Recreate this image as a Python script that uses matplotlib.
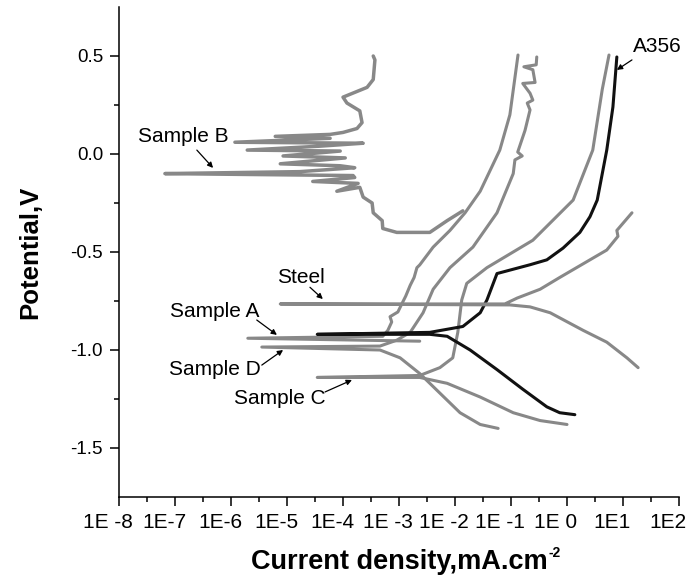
import numpy as np
import matplotlib
matplotlib.use("Agg")
import matplotlib.pyplot as plt
import matplotlib.transforms as mtransforms
from matplotlib.ticker import FixedLocator, NullFormatter

# Polarisation curves: log10(current density, mA/cm2) and potential (V)
sampleB_logi = [-3.46, -3.43, -3.46, -3.57, -4.00, -3.93, -3.70, -3.66, -3.75, -4.00, -4.23,
                -5.21, -4.23, -5.93, -3.64, -4.41, -5.71, -4.05, -5.07, -3.96, -5.12, -4.05,
                -3.79, -4.77, -7.18, -3.82, -3.79, -4.54, -3.73, -4.11, -3.70, -3.64, -3.48,
                -3.46, -3.30, -3.29, -3.04, -2.45, -2.14, -1.86]
sampleB_E = [0.50, 0.48, 0.38, 0.34, 0.29, 0.26, 0.22, 0.16, 0.13, 0.11, 0.10,
             0.09, 0.08, 0.06, 0.055, 0.04, 0.02, 0.015, -0.01, -0.02, -0.05, -0.06,
             -0.07, -0.09, -0.10, -0.11, -0.12, -0.14, -0.15, -0.19, -0.17, -0.22, -0.25,
             -0.30, -0.34, -0.38, -0.40, -0.40, -0.34, -0.29]

steel_logi = [1.27, 1.07, 0.71, 0.29, -0.30, -0.66, -1.02, -5.12, -1.11, -0.89, -0.48,
              -0.13, 0.29, 0.71, 0.91, 0.89, 1.16]
steel_E = [-1.09, -1.04, -0.96, -0.90, -0.81, -0.78, -0.77, -0.765, -0.765, -0.735, -0.69,
           -0.63, -0.56, -0.49, -0.42, -0.39, -0.30]

sampleA_logi = [-2.63, -5.70, -3.29, -3.20, -3.13, -3.16, -3.02, -2.95, -2.88, -2.80, -2.73,
                -2.68, -2.63, -2.39, -2.09, -1.82, -1.55, -1.20, -1.02, -0.875]
sampleA_E = [-0.955, -0.94, -0.93, -0.90, -0.857, -0.83, -0.806, -0.765, -0.725, -0.67, -0.63,
             -0.58, -0.566, -0.475, -0.39, -0.30, -0.19, 0.02, 0.20, 0.505]

sampleD_logi = [-1.23, -1.55, -1.91, -2.27, -2.63, -2.98, -3.34, -5.45, -3.34, -3.04, -2.80,
                -2.57, -2.39, -2.09, -1.68, -1.25, -0.96, -0.93, -0.80, -0.88, -0.75, -0.66,
                -0.71, -0.61, -0.66, -0.79, -0.57, -0.61, -0.77, -0.55, -0.54]
sampleD_E = [-1.40, -1.38, -1.32, -1.22, -1.12, -1.04, -1.00, -0.985, -0.98, -0.95, -0.91,
             -0.81, -0.69, -0.58, -0.475, -0.30, -0.10, -0.03, -0.01, 0.01, 0.12, 0.225,
             0.26, 0.275, 0.31, 0.36, 0.365, 0.43, 0.445, 0.455, 0.495]

sampleC_logi = [0.00, -0.48, -0.96, -1.55, -2.14, -2.63, -4.46, -2.63, -2.27, -2.04, -1.95,
                -1.88, -1.79, -1.43, -0.61, 0.11, 0.46, 0.63, 0.75]
sampleC_E = [-1.38, -1.36, -1.32, -1.24, -1.17, -1.14, -1.14, -1.13, -1.09, -1.04, -0.91,
             -0.745, -0.66, -0.58, -0.44, -0.235, 0.02, 0.33, 0.505]

a356_logi = [0.14, -0.13, -0.36, -0.79, -1.25, -1.73, -2.14, -2.45, -4.46, -2.45, -1.86,
             -1.55, -1.43, -1.25, -0.66, -0.36, -0.07, 0.23, 0.41, 0.54, 0.71, 0.82, 0.89]
a356_E = [-1.33, -1.32, -1.29, -1.20, -1.10, -1.00, -0.93, -0.92, -0.92, -0.91, -0.88,
          -0.81, -0.745, -0.61, -0.565, -0.54, -0.48, -0.40, -0.32, -0.235, 0.02, 0.24, 0.495]

decades = list(range(-8, 3))
xtick_labels = ["1E -8", "1E-7", "1E-6", "1E-5", "1E-4", "1E -3", "1E -2", "1E -1",
                "1E 0", "1E1", "1E2"]

GRAY = "#888888"
FONT = ["Liberation Sans", "DejaVu Sans"]
NARROW = ["Liberation Sans Narrow", "Liberation Sans", "DejaVu Sans"]

fig = plt.figure(figsize=(6.86, 5.86), dpi=100)
ax = fig.add_axes([119 / 686, 1 - 497 / 586, 560 / 686, 490 / 586])

curves = [
    (sampleB_logi, sampleB_E, GRAY, 2.5),
    (sampleC_logi, sampleC_E, GRAY, 2.2),
    (sampleD_logi, sampleD_E, GRAY, 2.2),
    (sampleA_logi, sampleA_E, GRAY, 2.2),
    (a356_logi, a356_E, "#111111", 2.2),
    (steel_logi, steel_E, GRAY, 2.2),
]
for logi, E, c, w in curves:
    ax.plot(10 ** np.array(logi), E, color=c, lw=w, solid_joinstyle="round",
            solid_capstyle="round")

ax.set_xscale("log")
ax.set_xlim(1e-8, 1e2)
ax.set_ylim(-1.75, 0.75)
ax.xaxis.set_major_locator(FixedLocator([10.0 ** d for d in decades]))
ax.xaxis.set_minor_locator(FixedLocator([10.0 ** (d + 0.5) for d in decades[:-1]]))
ax.xaxis.set_minor_formatter(NullFormatter())
ax.set_xticklabels(xtick_labels, family=NARROW, fontsize=15)
ax.set_yticks([0.5, 0.0, -0.5, -1.0, -1.5])
ax.set_yticks([0.25, -0.25, -0.75, -1.25], minor=True)
ax.set_yticklabels(["0.5", "0.0", "-0.5", "-1.0", "-1.5"], family=FONT, fontsize=13.5)
ax.tick_params(which="major", direction="out", length=6.5, width=1.1)
ax.tick_params(which="minor", direction="out", length=3.5, width=1.1)
ax.tick_params(axis="x", pad=5)
ax.tick_params(axis="y", pad=5)
for s in ("top", "right"):
    ax.spines[s].set_visible(False)
for s in ("left", "bottom"):
    ax.spines[s].set_linewidth(1.1)

# the x tick labels sit a little left of their ticks in the original
shift = mtransforms.ScaledTranslation(-0.11, 0, fig.dpi_scale_trans)
for lab in ax.get_xticklabels():
    lab.set_transform(lab.get_transform() + shift)

ax.set_xlabel("Current density,mA.cm", family=NARROW, fontsize=19.5,
              fontweight="bold", labelpad=12)
ax.set_ylabel("Potential,V", family=FONT, fontsize=18.5, fontweight="bold", labelpad=20)

# labels with arrows (positions in log10 current, potential)
labels = [
    ("Sample B", (-6.86, 0.087), (-6.61, 0.02), (-6.32, -0.071)),
    ("Steel", (-4.75, -0.628), (-4.59, -0.68), (-4.36, -0.74)),
    ("Sample A", (-6.29, -0.806), (-5.54, -0.847), (-5.18, -0.923)),
    ("Sample D", (-6.29, -1.10), (-5.45, -1.077), (-5.07, -1.0)),
    ("Sample C", (-5.125, -1.245), (-4.32, -1.214), (-3.84, -1.153)),
    ("A356", (1.61, 0.546), (1.16, 0.48), (0.89, 0.429)),
]
for txt, (tx, ty), (ax0, ay0), (ax1, ay1) in labels:
    ax.text(10 ** tx, ty, txt, ha="center", va="center", fontsize=15, family=FONT,
            clip_on=False)
    ax.annotate("", xy=(10 ** ax1, ay1), xytext=(10 ** ax0, ay0),
                arrowprops=dict(arrowstyle="-|>", color="black", lw=0.9,
                                mutation_scale=8, shrinkA=0, shrinkB=0))

# small "-2" exponent after the x label
fig.canvas.draw()
bb = ax.xaxis.label.get_window_extent()
fig.text((bb.x1 + 1) / fig.bbox.width, (bb.y1 + 3) / fig.bbox.height, "-2",
         family=FONT, fontsize=10, fontweight="bold", ha="left", va="top")

fig.savefig("out.png", dpi=100)
